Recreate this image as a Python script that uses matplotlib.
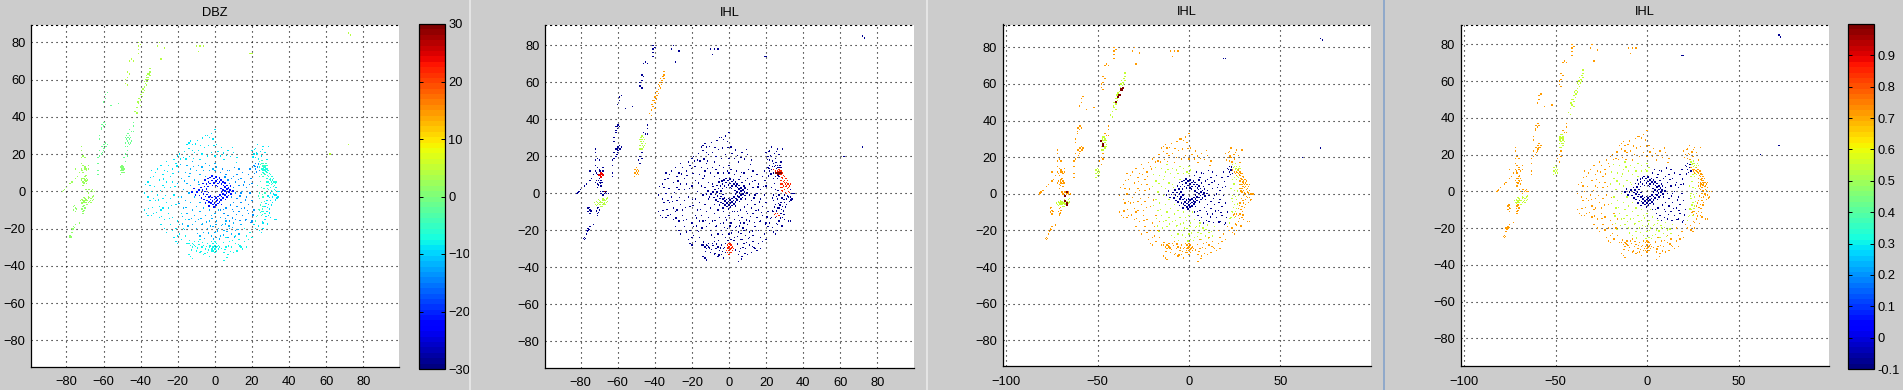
import matplotlib
matplotlib.use("Agg")
import matplotlib.pyplot as plt
from matplotlib.colors import Normalize
from matplotlib.cm import ScalarMappable

plt.rcParams['font.family'] = ['Liberation Sans', 'DejaVu Sans']

# ---- point positions (km), by echo region ----
CORE = [(-9.6,-0.4),(-8.7,0.8),(-8.2,-2.3),(-7.5,2.1),(-7.3,-0.6),(-7.1,-3.6),(-6.4,4.2),(-6.6,0.7),(-6.2,-1.5),(-6.0,-4.4),(-5.6,2.5),(-5.3,6.1),(-5.2,-0.2),(-5.0,-2.9),(-5.1,-6.3),(-4.6,3.9),(-4.4,1.1),(-4.3,-1.8),(-4.2,-4.9),(-3.7,6.8),(-3.5,5.0),(-3.6,2.6),(-3.4,-0.7),(-3.3,-3.1),(-3.1,-5.6),(-3.2,-7.8),(-2.6,7.3),(-2.5,4.1),(-2.4,-2.6),(-2.3,-4.3),(-2.2,-6.4),(-1.6,8.1),(-1.5,5.8),(-1.3,3.2),(-1.4,-3.4),(-1.2,-5.2),(-1.1,-7.1),(-0.5,6.9),(-0.4,4.6),(-0.3,-2.9),(-0.2,-4.5),(-0.1,-6.2),(-0.4,-8.4),(0.5,7.7),(0.6,5.4),(0.7,3.1),(0.6,-3.5),(0.8,-5.3),(0.7,-7.3),(1.5,6.3),(1.6,4.1),(1.4,2.6),(1.7,-2.8),(1.5,-4.7),(1.6,-6.6),(2.5,7.1),(2.6,5.0),(2.7,-1.9),(2.4,-3.9),(2.6,-5.7),(3.4,6.2),(3.6,3.9),(3.3,1.6),(3.5,-0.5),(3.6,-2.7),(3.4,-4.6),(3.5,-7.0),(4.4,5.1),(4.6,3.2),(4.3,0.8),(4.5,-1.6),(4.4,-3.6),(5.5,4.3),(5.3,2.4),(5.6,0.2),(5.4,-2.1),(5.7,-4.4),(6.4,3.0),(6.6,1.1),(6.3,-0.9),(6.5,-3.1),(7.4,1.9),(7.6,-0.4),(7.3,-2.2),(8.5,2.8),(8.3,0.6),(8.7,-1.3),(-11.3,1.4),(-10.5,-2.1),(-12.2,-0.5),(9.8,0.2)]
INNER_E = [(3,10),(4,12),(6,9),(7,6),(8,11),(8,4),(9,7),(9,-3),(10,8),(10,2),(10,-6),(11,-1),(11,5),(12,9),(12,-8),(12,-4),(13,3),(13,12),(13,-11),(14,7),(14,-1),(14,-6),(15,-13),(15,0),(15,10),(16,-9),(16,5),(17,-15),(17,-3),(17,2),(18,-7),(18,-12),(18,9),(19,12),(19,-1),(20,-5),(20,-16),(20,4),(21,-10),(21,14),(22,12),(22,15),(23,13),(24,11),(6,-9),(5,-12),(3,-10),(7,-13),(8,-16),(10,-11),(11,-15),
           (5.4,7.6),(6.7,11.3),(8.5,-7.4),(9.6,-9.8),(10.6,12.7),(11.6,-12.6),(12.6,6.3),(13.5,-2.6),(14.5,-9.4),(15.6,3.4),(16.5,-4.7),(17.5,-10.3),(18.5,3.6),(19.4,6.8),(20.5,-12.8),(21.4,9.4),(22.6,10.4),(19.5,-16.6),(16.4,-15.4),(13.6,-15.7),(9.5,-14.4),(4.5,-9.7),(5.6,-14.6),(21.6,13.4),(23.4,14.6)]
MID = [(-20,4),(-18,7),(-18,-3),(-17,1),(-17,-9),(-16,10),(-16,-5),(-15,4),(-15,-12),(-15,14),(-14,-1),(-14,8),(-14,-15),(-13,-6),(-13,12),(-13,3),(-12,-10),(-12,-18),(-12,16),(-11,6),(-11,-3),(-11,-13),(-10,11),(-10,-8),(-10,-20),(-9,14),(-9,5),(-9,-15),(-8,9),(-8,-6),(-8,-11),(-8,-24),(-7,13),(-7,-18),(-6,11),(-6,-9),(-6,-22),(-5,15),(-5,8),(-5,-13),(-4,-20),(-3,11),(-3,14),(-3,-10),(-3,-16),(-2,-13),(-2,-24),(-1,12),(-1,-19),(0,15),(0,11),(0,-12),(0,-22),(1,13),(1,-16),(1,-25),(2,-10),(2,-20),(3,-14),(3,-24),(4,-18),(5,-21),(6,-16),(7,-25),(8,-20),(9,-23),(10,-17),(11,-21),(13,-23),(14,-18),
       (-19.4,-6.5),(-17.6,-13.4),(-16.4,5.6),(-15.5,-8.6),(-14.5,-18.7),(-13.4,9.4),(-12.6,-14.6),(-11.5,13.3),(-10.6,-16.4),(-9.5,-22.6),(-8.6,3.6),(-7.5,-14.7),(-6.6,-17.4),(-5.6,-25.4),(-4.5,-16.5),(-3.6,-22.4),(-2.5,-18.6),(-1.5,-14.5),(-0.6,-25.7),(0.6,-17.7),(1.5,-21.4),(2.6,-25.6),(3.5,-18.5),(4.6,-23.4),(5.6,-17.6),(6.5,-21.6),(7.6,-18.7),(9.4,-19.6),(10.6,-24.5),(12.5,-20.4),(-19.5,10.6),(-18.4,14.5),(-17.4,-17.6),(-16.5,-20.6)]
OUTER_W = [(-38,-1),(-36,-3),(-35,-5),(-34,0),(-33,-4),(-32,-5),(-36,-13),(-34,-13),(-33,-12),(-37,-12),(-38,-10),(-30,-8),(-29,-10),(-28,-9),(-31,-2),(-28,3),(-27,2),(-26,5),(-28,-4),(-26,-6),(-25,-9),(-33,8),(-32,10),(-34,11),(-31,12),(-30,6),(-28,9),(-27,11),(-29,14),(-26,16),(-25,14),(-24,8),(-23,5),(-23,12),(-22,17),(-21,15),(-20,19),(-19,20),(-17,18),(-15,25),(-14,26),(-13,27),(-12,25),(-14,23),(-12,22),(-11,21),(-5,30),(-4,30),(-3,29),(-2,31),(0,33),(-1,28),(1,25),(-9,22),(-8,17),(-7,20),(-4,19),(-2,21),(0,19),(3,19),(5,17),(7,22),(10,21),(12,18),(-30,-14),(-29,-18),(-27,-15),(-27,-20),(-26,-22),(-25,-12),(-24,-18),(-23,-14),(-23,-21),(-22,-25),(-21,-27),(-20,-24),(-21,-20),(-20,-28),(-19,-23),(-20,-16),(-18,-26),(-19,-18),(-24,2),(-22,-2),(-21,-7),(-36,5),(-35,3),(-24,-4),
           (-37.4,3.6),(-35.6,-9.4),(-34.6,7.4),(-33.5,-8.6),(-32.4,2.6),(-31.6,-11.5),(-30.5,-4.6),(-29.4,0.6),(-28.6,-13.4),(-27.5,6.6),(-26.6,-2.4),(-25.5,10.5),(-24.6,-14.6),(-23.4,-7.5),(-22.6,9.5),(-21.5,2.6),(-20.4,13.5),(-19.6,-3.4),(-18.5,17.4),(-16.4,21.5),(-15.6,17.4),(-13.5,18.6),(-11.6,17.5),(-10.5,25.4),(-9.5,27.4),(-7.6,24.6),(-6.5,28.6),(-5.6,23.6),(-3.5,24.5),(-0.5,24.6),(1.6,21.4),(3.6,23.4),(4.5,20.6),(6.4,19.4),(8.5,18.6),(9.6,23.6),(11.5,15.6)]
OUTER_S = [(-18,-12),(-17,-20),(-16,-24),(-16,-15),(-15,-28),(-14,-28),(-13,-29),(-12,-28),(-12,-30),(-11,-27),(-11,-29),(-13,-35),(-12,-36),(-14,-34),(-10,-32),(-9,-27),(-8,-33),(-8,-26),(-7,-30),(-6,-29),(-6,-34),(-5,-31),(-4,-28),(-4,-33),(-3,-30),(-3,-35),(-2,-32),(-2,-27),(5,-37),(5,-33),(6,-30),(6,-25),(7,-34),(8,-27),(9,-30),(10,-33),(11,-28),(11,-24),(12,-32),(13,-26),(14,-30),(15,-31),(16,-27),(17,-30),(17,-24),(18,-26),(19,-22),(16,-20),(20,-25),
           (-13.6,-26.4),(-12.6,-31.6),(-11.5,-28.4),(-10.4,-29.6),(-9.5,-30.5),(-8.6,-28.4),(-7.5,-32.5),(-6.6,-27.4),(-5.4,-33.4),(-4.6,-29.6),(-3.5,-31.6),(-2.6,-29.4),(3.5,-30.6),(4.6,-27.5),(5.5,-31.4),(6.6,-35.5),(7.5,-29.4),(8.6,-32.4),(9.5,-26.6),(12.6,-28.6),(13.5,-29.4)]
SOUTH_HOT = [(-1,-30),(-1,-32),(-1,-28),(0,-27),(0,-29),(0,-31),(0,-33),(1,-28),(1,-30),(1,-32),(2,-29),(2,-31),(-0.5,-29.5),(0.5,-30.5),(1.5,-29.5),(-1.5,-31),(0.5,-27.5),(2.5,-30)]
EAST_HOT = [(26,10),(26,12),(27,11),(27,13),(28,10),(28,12),(28,7),(28,3),(28,5),(29,11),(29,8),(29,5),(29,1),(29,3),(30,9),(30,6),(30,2),(30,7),(31,8),(31,4),(31,0),(31,6),(32,5),(32,1),(32,3),(33,5),(25,12),(24,13),(25,-11),(26,-11),(27,-12),
            (25.5,11),(26.5,11.5),(27.5,10.5),(27.5,12),(28.5,8.5),(28.5,11),(29.5,6.5),(29.5,4),(29.5,9.5),(30.5,5),(30.5,8),(30.5,3.5),(31.5,7),(31.5,2.5),(31.5,5),(32.5,4),(28.5,1.5),(30.5,0.5),(32.5,0.5),(24.5,-11.5),(25.5,-12.5)]
EAST_GREEN = [(24,16),(25,15),(25,9),(26,14),(26,8),(27,9),(27,14),(28,14),(26,15),(24,8),(23,3),(24,-1),(25,-6),(24,-10),(23,-13),(22,-16),(25,2),(26,-3),(26,-8),(25,-13),(27,-1),(24,-4),
              (25.5,13.5),(26.5,13),(27.5,15),(24.5,14.5),(25.4,16.6),(26.4,9.6),(24.6,5.4),(23.6,-2.5),(25.5,-1.6),(26.6,-5.6),(24.5,-7.4),(23.4,-9.6),(25.6,-9.5),(22.5,-13.6),(26.4,1.6)]
EAST_OUT = [(20,22),(21,20),(22,23),(22,18),(23,25),(23,20),(25,19),(26,24),(27,21),(28,17),(29,24),(30,-1),(31,-3),(32,-2),(33,2),(33,-2),(34,0),(34,-3),(35,0),(28,-5),(29,-7),(30,-5),(31,-6),(27,-8),(28,-11),(29,-13),(30,-14),(32,-15),(33,-15),(27,-15),(26,-17),(21,-18),(22,-20),(24,-21),(25,-22),(26,-20),
            (20.6,18.4),(21.5,22.6),(22.5,20.6),(23.5,17.4),(24.6,21.5),(25.5,22.6),(28.6,-2.6),(29.6,-3.5),(30.5,-7.4),(31.6,-1.5),(32.5,-4.6),(33.5,-3.6),(29.4,-9.5),(28.4,-8.6),(27.5,-6.4),(29.6,-11.6),(27.6,-13.4),(25.5,-16.4),(28.5,-17.6),(23.6,-18.6)]
FAR_TAIL = [(-78,-25),(-78,-24),(-77,-20),(-76,-19),(-76,-20),(-75,-18),(-73,-17),(-77,-22),(-76,-8),(-76,-10),(-75,-11),(-75,-9),(-71,-8),(-71,-11),(-71,-12),(-70,-9),
            (-77.5,-24.5),(-78.5,-24.5),(-76.5,-20.5),(-75.5,-19.5),(-75.5,-7.5),(-74.5,-9.5),(-70.5,-10.5),(-71.5,-9.5),(-70.5,-7.5)]
FAR_BAND = [(-72,-6),(-71,-5),(-71,-6),(-70,-6),(-70,-5),(-70,-4),(-69,-7),(-69,-5),(-68,-6),(-68,-4),(-68,-3),(-67,-6),(-67,-5),(-67,-4),(-66,-5),(-66,-3),
            (-72.5,-5),(-71.5,-4.5),(-71.5,-6.5),(-70.5,-5.5),(-70.5,-3.5),(-69.5,-6),(-69.5,-4.5),(-68.5,-5),(-68.5,-7),(-67.5,-5.5),(-67.5,-3.5),(-66.5,-4),(-66.5,-6),(-65.5,-4.5),(-65.5,-2.5)]
FAR_UP = [(-69,0),(-68,1),(-67,0),(-66,1),(-66,0),(-65,0),(-68,-1),(-82,0),(-81,1),(-80,2),(-78,4),(-77,5),(-75,7),(-74,8),(-73,10),(-72,12),(-75,12),(-72,6),(-71,5),(-71,3),(-70,8),(-70,6),(-69,4),(-69,7),(-71,10),(-70,12),(-69,11),(-68,12),(-70,13),(-68,14),(-72,18),(-71,19),(-72,24),(-72,22),(-70,18),(-72,15),(-71,14),
          (-81.5,0.5),(-70.5,7),(-70.5,4.5),(-71.5,7),(-69.5,8.5),(-69.5,5.5),(-68.5,6),(-69.5,1),(-67.5,1),(-66.5,0.5),(-71.5,11),(-69.5,12)]
MID_STREAK = [(-63,9),(-63,11),(-63,15),(-63,18),(-62,19),(-62,22),(-61,24),(-60,23),(-60,25),(-60,22),(-59,24),(-59,26),(-58,25),(-61,20),(-62,28),(-62,30),(-61,33),(-61,36),(-60,37),(-60,35),(-61,34),(-59,36),(-59,50),(-59,52),(-60,48),(-58,53),(-56,46),(-52,47),
              (-60.5,24),(-59.5,23),(-59.5,25),(-60.5,21),(-58.5,24),(-60.5,36),(-59.5,37)]
A_LOW = [(-51,9),(-51,11),(-51,13),(-50,10),(-50,12),(-50,14),(-49,12),(-49,10),(-50.5,11),(-49.5,11),(-50.5,13),(-49.5,13)]
A_HIGH = [(-48,24),(-48,26),(-48,29),(-47,27),(-47,29),(-47,31),(-46,25),(-46,28),(-46,30),(-45,27),(-47,24),(-47.5,28),(-46.5,26),(-46.5,29),(-45.5,29),(-47.5,30),(-45.5,26),(-46.5,31)]
A_REST = [(-49,18),(-48,16),(-48,20),(-47,22),(-47,19),(-45,32),(-46,33),(-44,32),(-44,35),(-44,37)]
B_STREAK = [(-43,43),(-42,42),(-42,45),(-41,47),(-41,50),(-40,49),(-40,52),(-40,46),(-39,53),(-39,55),(-39,51),(-38,54),(-38,56),(-37,57),(-38,59),(-37,60),(-36,61),(-36,63),(-37,62),(-35,64),(-35,66),(-35,62),(-36,60),
            (-40.5,50),(-39.5,52),(-39.5,54),(-38.5,55),(-38.5,53),(-37.5,58),(-37.5,60),(-36.5,61),(-36.5,59),(-41.5,48),(-35.5,63)]
TOP = [(-41,80),(-41,78),(-41,76),(-41,74),(-40,79),(-45,71),(-46,70),(-44,70),(-47,64),(-48,60),(-48,58),(-47,57),(-47,61),(-46,63),(-30,80),(-31,78),(-27,77),(-29,71),(-10,78),(-9,75),(-8,78),(-6,78)]
SPECKS = [(19,74),(20,74),(72,85),(73,84),(72,25),(62,20)]
HOT_SPOT = [(-70,10),(-69,11),(-68,10),(-69,9),(-69.5,10),(-68.5,10.5)]
DARK_RED_2 = [(25,11),(26,11),(27,11),(28,11),(26.5,10.5),(-67,1)]
DARK_A = [(-68,-1),(-67,1),(-67,-5),(-67,-6),(-68,-4),(-48,29),(-47,27),(-47,26),(-40,50),(-39,53),(-38,54),(-37,57),(-36,58)]

GROUPS = [MID, OUTER_W, OUTER_S, EAST_OUT, EAST_GREEN, EAST_HOT, SOUTH_HOT, INNER_E, CORE,
          FAR_TAIL, FAR_BAND, FAR_UP, MID_STREAK, A_LOW, A_HIGH, A_REST, B_STREAK, TOP, SPECKS]

# ---- colour value of each group in each panel, same order as GROUPS ----
DBZ_VALUES  = [-12, -9, -8, -9, -5, -7, -8, -14, -21, 1, 2, 2, -1, 0, -1, -1, 3, 4, 4]
IHL2_VALUES = [-.08, -.08, -.08, -.08, -.08, .86, .86, -.08, -.08, -.08, .52, -.08, -.08, .71, .52, -.08, .71, -.08, -.08]
IHL3_VALUES = [.54, .71, .71, .71, .54, .71, .71, -.08, -.08, .71, .54, .71, .71, .54, .54, .71, .54, .71, -.08]
IHL4_VALUES = [.54, .71, .71, .71, .54, .71, .71, -.08, -.08, .71, .54, .71, .71, .54, .54, .71, .54, .71, -.08]

TITLES = ['DBZ', 'IHL', 'IHL', 'IHL']
PANEL_VALUES = [DBZ_VALUES, IHL2_VALUES, IHL3_VALUES, IHL4_VALUES]
DBZ_TICKS = [-30, -20, -10, 0, 10, 20, 30]
IHL_TICKS = [-0.1, 0, 0.1, 0.2, 0.3, 0.4, 0.5, 0.6, 0.7, 0.8, 0.9]
IHL_TICK_LABELS = ['-0.1', '0', '0.1', '0.2', '0.3', '0.4', '0.5', '0.6', '0.7', '0.8', '0.9']
X_TICKS_FINE = [-80, -60, -40, -20, 0, 20, 40, 60, 80]
X_TICKS_COARSE = [-100, -50, 0, 50]
Y_TICKS = [-80, -60, -40, -20, 0, 20, 40, 60, 80]

W, H = 1903, 390
BG = '#cccccc'
cmap = plt.get_cmap('jet', 64)
dbz_norm = Normalize(-30, 30)
ihl_norm = Normalize(-0.1, 1.0)

PANELS = [
    dict(box=(31.3, 25, 399, 366.7),  xlim=(-98.9, 99.2),  ylim=(-94.2, 89.3), xt=X_TICKS_FINE,  norm=dbz_norm),
    dict(box=(545.3, 25, 913.7, 367.7), xlim=(-99.1, 99.6), ylim=(-94.3, 91.0), xt=X_TICKS_FINE,  norm=ihl_norm),
    dict(box=(1002.7, 24.5, 1370.7, 366.3), xlim=(-102, 99.5), ylim=(-94.2, 92.5), xt=X_TICKS_COARSE, norm=ihl_norm),
    dict(box=(1460.7, 24.5, 1828.7, 366.3), xlim=(-101.8, 99.2), ylim=(-95.2, 90.8), xt=X_TICKS_COARSE, norm=ihl_norm),
]


def px_axes(fig, l, t, r, b):
    return fig.add_axes([l / W, 1 - b / H, (r - l) / W, (b - t) / H])


def dots(ax, group, v, norm, size, z=3):
    ax.scatter([p[0] for p in group], [p[1] for p in group], c=[v] * len(group), cmap=cmap,
               norm=norm, marker='s', s=size, linewidths=0, zorder=z)


fig = plt.figure(figsize=(W / 100, H / 100), dpi=100, facecolor=BG)

for panel, title, values in zip(PANELS, TITLES, PANEL_VALUES):
    ax = px_axes(fig, *panel['box'])
    ax.set_facecolor('white')
    ax.set_xlim(panel['xlim'])
    ax.set_ylim(panel['ylim'])
    ax.set_xticks(panel['xt'])
    ax.set_yticks(Y_TICKS)
    ax.grid(True, color='black', linestyle=(0, (1, 3.5)), linewidth=0.8)
    ax.set_axisbelow(True)
    ax.tick_params(length=0, labelsize=9.3, colors='black')
    ax.tick_params(axis='x', pad=7)
    ax.tick_params(axis='y', pad=4)
    ax.spines['right'].set_visible(False)
    ax.spines['top'].set_linestyle((0, (1, 3.5)))
    ax.spines['top'].set_linewidth(0.8)
    ax.spines['left'].set_linewidth(0.9)
    ax.spines['bottom'].set_linewidth(0.9)
    ax.set_title(title, fontsize=9.3, pad=6.5)
    for group, v in zip(GROUPS, values):
        dots(ax, group, v, panel['norm'], 1.3 if group is CORE else 0.9)
    if values is IHL2_VALUES:
        dots(ax, HOT_SPOT, 0.88, ihl_norm, 2, 4)
        dots(ax, DARK_RED_2, 1.0, ihl_norm, 1.6, 4)
    if values is IHL3_VALUES:
        dots(ax, DARK_A, 1.0, ihl_norm, 2.5, 4)


def colorbar(l, r, norm, ticks, labels=None):
    cax = px_axes(fig, l, 24, r, 369)
    cb = fig.colorbar(ScalarMappable(norm=norm, cmap=cmap), cax=cax, ticks=ticks)
    cax.tick_params(axis='y', direction='in', left=True, right=True, length=3,
                    labelsize=9.3, pad=2, width=0.7)
    if labels:
        cb.set_ticklabels(labels)
    cb.outline.set_linewidth(0.9)


colorbar(419.3, 445.3, dbz_norm, DBZ_TICKS)
colorbar(1848.3, 1874.3, ihl_norm, IHL_TICKS, IHL_TICK_LABELS)

for x, c in [(469.5, '#ececec'), (926.5, '#ececec'), (1384, '#7f9fca')]:
    fig.add_artist(plt.Line2D([x / W, x / W], [0, 1], color=c, linewidth=1.1))

fig.savefig('out.png', dpi=100, facecolor=BG)
